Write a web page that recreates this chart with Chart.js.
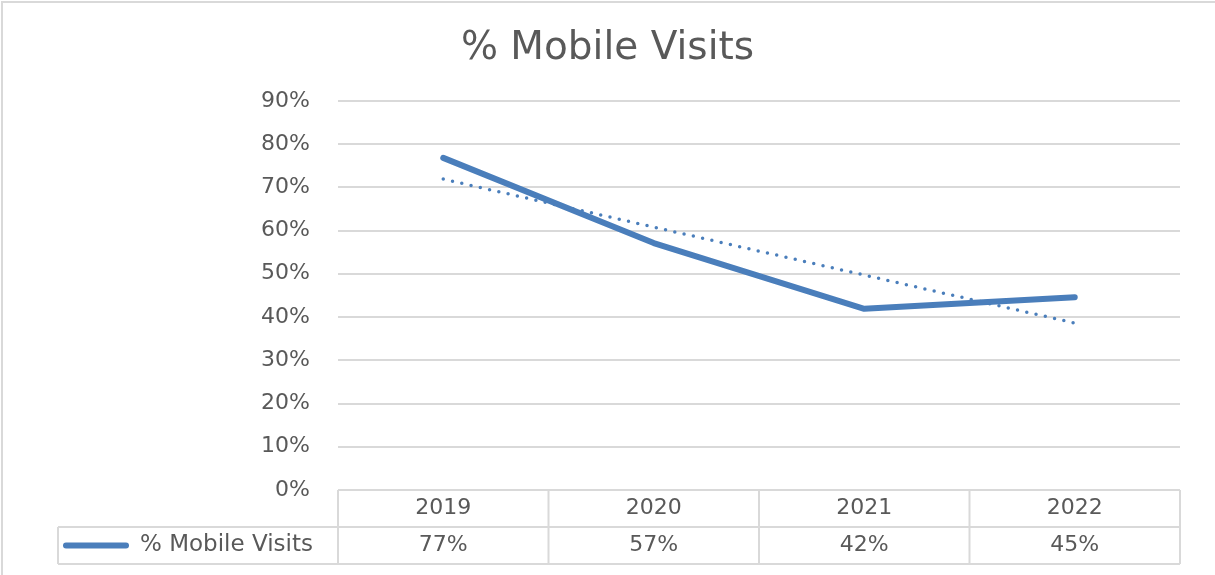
<!DOCTYPE html>
<html>
<head>
<meta charset="utf-8">
<script src="https://cdn.jsdelivr.net/npm/chart.js@4/dist/chart.umd.min.js"></script>
<style>
  body { margin: 0; background: #fff; }
  #wrap { width: 1215px; height: 575px; }
</style>
</head>
<body>
<div id="wrap"><canvas id="chart" width="1215" height="575"></canvas></div>
<script>
// data
const years = ['2019', '2020', '2021', '2022'];
const mobileShare = [0.768, 0.571, 0.419, 0.446];
const tableValues = ['77%', '57%', '42%', '45%'];
// dotted linear trendline as drawn (read at each year)
const trendShare = [0.719, 0.608, 0.497, 0.386];
const yTicks = [0, 0.1, 0.2, 0.3, 0.4, 0.5, 0.6, 0.7, 0.8, 0.9];

const seriesName = '% Mobile Visits';
const blue = '#4a7ebb';
const textGray = '#595959';
const lineGray = '#d9d9d9';
const font = 'DejaVu Sans';

const tablePlugin = {
    id: 'dataTable',
    beforeDraw(chart) {
        const ctx = chart.ctx;
        ctx.save();
        ctx.strokeStyle = lineGray;
        ctx.lineWidth = 2;
        ctx.beginPath();
        ctx.moveTo(2, 575);
        ctx.lineTo(2, 2);
        ctx.lineTo(1215, 2);
        ctx.stroke();
        ctx.restore();
    },
    afterDraw(chart) {
        const { ctx, chartArea } = chart;
        const x = chart.scales.x;
        const rowH = 37;
        const top = chartArea.bottom;
        const mid = top + rowH;
        const bot = mid + rowH;
        const half = (x.getPixelForValue(1) - x.getPixelForValue(0)) / 2;
        const legendLeft = 58;

        ctx.save();
        ctx.strokeStyle = lineGray;
        ctx.lineWidth = 2;
        ctx.beginPath();
        // column dividers
        for (let i = 0; i <= years.length; i++) {
            const px = x.getPixelForValue(0) - half + i * half * 2;
            ctx.moveTo(px, top);
            ctx.lineTo(px, bot);
        }
        // row lines
        ctx.moveTo(legendLeft, mid);
        ctx.lineTo(chartArea.right, mid);
        ctx.moveTo(legendLeft, bot);
        ctx.lineTo(chartArea.right, bot);
        ctx.moveTo(legendLeft, mid);
        ctx.lineTo(legendLeft, bot);
        ctx.stroke();

        // legend key
        const cy = mid + rowH / 2;
        ctx.strokeStyle = blue;
        ctx.lineWidth = 6;
        ctx.lineCap = 'round';
        ctx.beginPath();
        ctx.moveTo(66, cy);
        ctx.lineTo(126, cy);
        ctx.stroke();

        ctx.fillStyle = textGray;
        ctx.font = '23px "' + font + '"';
        ctx.textBaseline = 'middle';
        ctx.textAlign = 'left';
        ctx.fillText(seriesName, 140, cy);

        ctx.font = '22px "' + font + '"';
        ctx.textAlign = 'center';
        tableValues.forEach((v, i) => {
            ctx.fillText(v, x.getPixelForValue(i), cy);
        });
        ctx.restore();
    }
};

new Chart(document.getElementById('chart'), {
    type: 'line',
    data: {
        labels: years,
        datasets: [{
            label: seriesName,
            data: mobileShare,
            borderColor: blue,
            borderWidth: 6,
            borderCapStyle: 'round',
            borderJoinStyle: 'round',
            pointRadius: 0,
            tension: 0
        }, {
            label: 'Linear (' + seriesName + ')',
            data: trendShare,
            borderColor: blue,
            borderWidth: 3.5,
            borderDash: [0, 9.5],
            borderCapStyle: 'round',
            pointRadius: 0,
            tension: 0
        }]
    },
    options: {
        responsive: false,
        animation: false,
        layout: { padding: 0 },
        plugins: {
            legend: { display: false },
            tooltip: { enabled: false },
            title: {
                display: true,
                text: seriesName,
                color: textGray,
                font: { family: font, size: 39, weight: 'normal' },
                padding: { top: 25, bottom: 29 }
            }
        },
        scales: {
            x: {
                offset: true,
                grid: { display: false, drawTicks: false },
                border: { display: false },
                ticks: {
                    color: textGray,
                    font: { family: font, size: 22 },
                    padding: 5,
                    maxRotation: 0
                },
                afterFit(scale) { scale.height = 85; }
            },
            y: {
                min: 0,
                max: 0.9,
                afterBuildTicks(scale) {
                    scale.ticks = yTicks.map(v => ({ value: v }));
                },
                grid: { color: lineGray, lineWidth: 2, drawTicks: false },
                border: { display: false },
                ticks: {
                    color: textGray,
                    font: { family: font, size: 22 },
                    padding: 28,
                    callback: v => Math.round(v * 100) + '%'
                },
                afterFit(scale) { scale.width = 338; }
            },
            // empty right margin so the title centres on the whole canvas
            yRight: {
                position: 'right',
                min: 0,
                max: 0.9,
                grid: { display: false, drawTicks: false },
                border: { display: false },
                ticks: { display: false },
                afterFit(scale) { scale.width = 35; }
            }
        }
    },
    plugins: [tablePlugin]
});
</script>
</body>
</html>
